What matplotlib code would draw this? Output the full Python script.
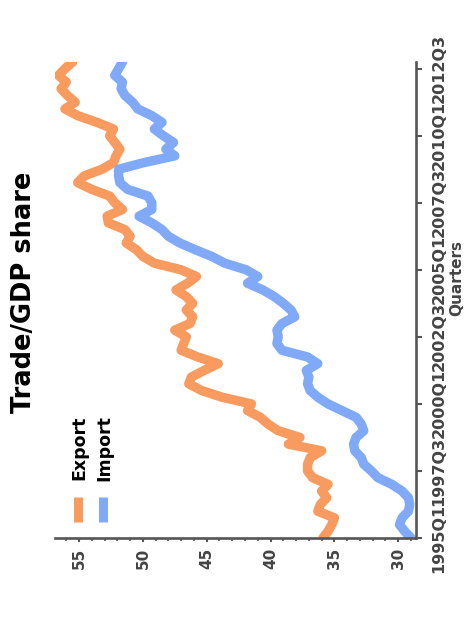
import matplotlib
matplotlib.use("Agg")
import matplotlib.pyplot as plt
from matplotlib.lines import Line2D
from matplotlib.ticker import MultipleLocator
import numpy as np

# ---- data ----
years = list(range(1995, 2013))
quarters = [f"{y}Q{q}" for y in years for q in (1, 2, 3, 4)]

export_share = [35.9, 35.5, 35.2, 35.0, 36.3, 36.1, 35.6, 36.0, 35.5, 36.7,
                37.1, 37.1, 36.9, 36.0, 38.6, 37.7, 39.4, 40.2, 40.8, 41.8,
                41.5, 43.8, 45.4, 46.4, 46.2, 45.2, 44.1, 45.7, 47.0, 46.8,
                46.6, 47.5, 46.3, 46.1, 46.6, 46.1, 46.6, 47.4, 46.5, 45.8,
                47.0, 49.1, 50.0, 50.5, 51.3, 51.0, 51.4, 52.7, 52.8, 51.6,
                52.2, 52.6, 54.0, 55.1, 54.6, 53.2, 52.3, 52.1, 51.8, 52.2,
                52.6, 52.3, 53.6, 55.1, 56.1, 55.3, 55.9, 56.4, 56.0, 56.6,
                56.1, 55.5]

import_share = [29.0, 29.5, 29.9, 29.7, 29.2, 29.1, 29.2, 29.7, 30.5, 31.6,
                32.1, 32.7, 32.9, 33.4, 33.5, 33.3, 32.7, 32.9, 33.3, 34.4,
                35.5, 36.3, 36.9, 37.1, 37.0, 37.2, 36.3, 37.1, 39.1, 39.5,
                39.4, 39.5, 39.1, 38.1, 38.4, 39.0, 39.7, 40.6, 41.8, 41.0,
                41.9, 43.6, 44.6, 45.9, 47.1, 48.0, 48.5, 49.3, 50.3, 49.3,
                49.3, 49.6, 51.2, 51.8, 51.9, 51.9, 49.9, 47.5, 48.2, 47.6,
                48.4, 49.1, 48.5, 49.3, 50.4, 50.8, 51.4, 51.7, 51.6, 52.2,
                51.9, 51.6]

series_names = ["Export", "Import"]
colors = ["#f99a5f", "#80aaf7"]
value_ticks = [30, 35, 40, 45, 50, 55]

# ---- figure ----
W, H = 475, 623
fig = plt.figure(figsize=(W / 100, H / 100), dpi=100)
ax = fig.add_axes([55 / W, (H - 538) / H, (416 - 55) / W, (538 - 62) / H])

pos = np.arange(len(quarters))
for vals, col in zip([export_share, import_share], colors):
    ax.plot(vals, pos, color=col, lw=6.8, solid_capstyle="round",
            solid_joinstyle="round")

ax.set_xlim(56.88, 28.61)
ax.set_ylim(0, len(quarters) - 1)

for s in ["top", "left"]:
    ax.spines[s].set_visible(False)
for s in ["bottom", "right"]:
    ax.spines[s].set_color("#555555")
    ax.spines[s].set_linewidth(1.9)

tc = "#444444"
font = "DejaVu Sans"
ax.set_xticks(value_ticks)
ax.set_xticklabels([str(v) for v in value_ticks], rotation=90,
                   fontsize=11, fontweight="bold", color=tc, family=font)
ax.xaxis.set_minor_locator(MultipleLocator(1))
ax.tick_params(axis="x", which="major", length=3, width=1.5, color="#555555", pad=4)
ax.tick_params(axis="x", which="minor", length=2, width=1.2, color="#555555")

ax.yaxis.tick_right()
ax.set_yticks(pos[::10])
ax.set_yticklabels([quarters[i] for i in pos[::10]], rotation=90, va="center",
                   fontsize=11.5, fontweight="bold", color=tc, family=font)
ax.tick_params(axis="y", which="major", length=4, width=1.5, color="#555555", pad=7)
ax.tick_params(axis="y", which="minor", length=0)

# axis title and chart title
fig.text(457 / W, 1 - 278 / H, "Quarters", rotation=90, ha="center", va="center",
         fontsize=11, fontweight="bold", color=tc, family=font)
fig.text(24 / W, 1 - 292 / H, "Trade/GDP share", rotation=90, ha="center",
         va="center", fontsize=18.5, fontweight="bold", color="black", family=font)

# legend (vertical, rotated)
for name, col, xc in zip(series_names, colors, [79.5, 104.5]):
    fig.text(xc / W, 1 - 448 / H, name, rotation=90, ha="center", va="center",
             fontsize=12.5, fontweight="bold", color="black", family=font)
    fig.add_artist(Line2D([(xc - 2) / W, (xc - 2) / W], [1 - 497 / H, 1 - 522 / H],
                          transform=fig.transFigure, color=col, lw=6.5,
                          solid_capstyle="butt"))

fig.savefig("out.png", dpi=100)
